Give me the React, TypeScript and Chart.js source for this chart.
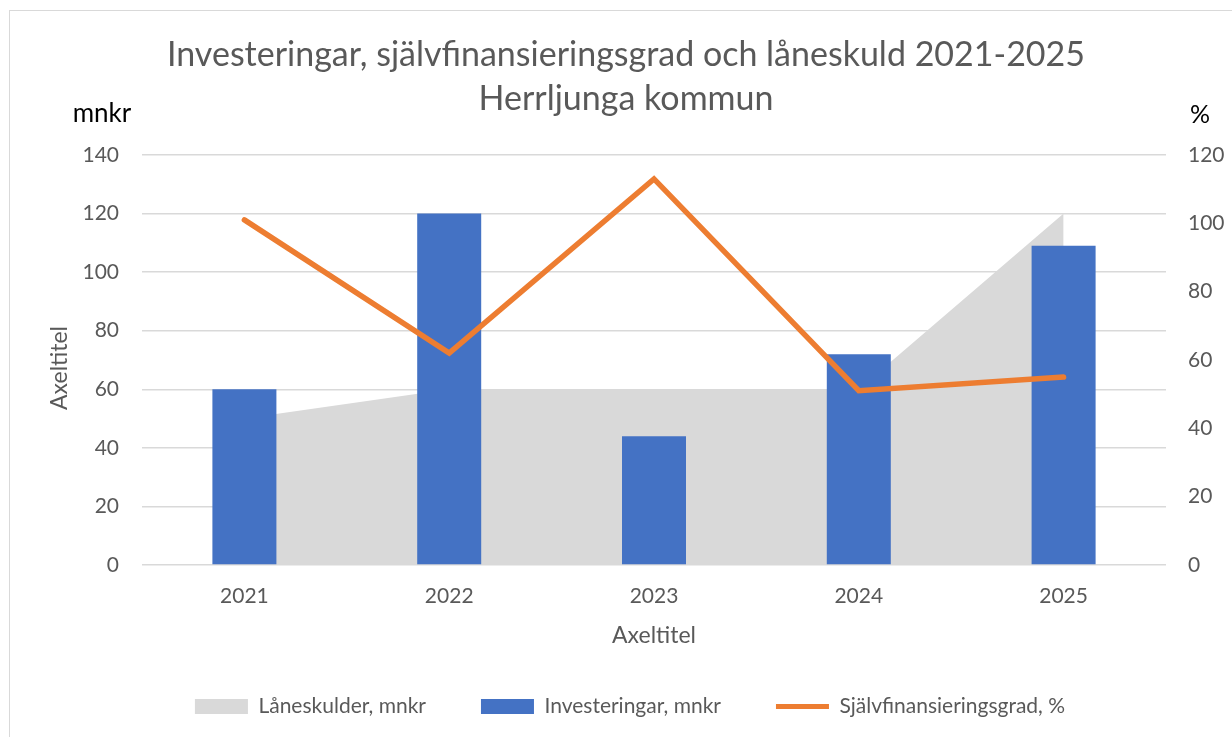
import React, { useEffect, useRef } from "react";
import { Chart, registerables } from "chart.js";

Chart.register(...registerables);

const years = ["2021", "2022", "2023", "2024", "2025"];
const loanDebt = [50, 60, 60, 60, 120];
const investments = [60, 120, 44, 72, 109];
const selfFinancing = [101, 62, 113, 51, 55];

const titleLines = ["Investeringar, självfinansieringsgrad och låneskuld 2021-2025", "Herrljunga kommun"];
const leftUnit = "mnkr";
const rightUnit = "%";
const axisTitle = "Axeltitel";

const FONT = "Lato, 'Open Sans', sans-serif";
const GREY_TEXT = "#595959";

const textPlugin = {
  id: "extraText",
  afterDraw(chart: any) {
    const { ctx, chartArea } = chart;
    ctx.save();
    ctx.textAlign = "center";
    ctx.textBaseline = "alphabetic";
    ctx.fillStyle = GREY_TEXT;
    ctx.font = `400 34px ${FONT}`;
    ctx.fillText(titleLines[0], 626, 66);
    ctx.fillText(titleLines[1], 626, 110);

    ctx.fillStyle = "#000000";
    ctx.font = `26px ${FONT}`;
    ctx.fillText(leftUnit, 102, 122);
    ctx.font = `25px ${FONT}`;
    ctx.fillText(rightUnit, 1200, 123);

    ctx.fillStyle = GREY_TEXT;
    ctx.font = `23px ${FONT}`;
    ctx.textBaseline = "middle";
    ctx.fillText(axisTitle, (chartArea.left + chartArea.right) / 2, 636);
    ctx.translate(60, 368);
    ctx.rotate(-Math.PI / 2);
    ctx.fillText(axisTitle, 0, 0);
    ctx.restore();
  },
};

export default function App() {
  const ref = useRef<HTMLCanvasElement | null>(null);

  useEffect(() => {
    if (!ref.current) return;
    const PAD_L = 28;
    const PAD_B = 10;
    const chart = new Chart(ref.current, {
      type: "bar",
      data: {
        labels: years,
        datasets: [
          {
            type: "line",
            label: "Låneskulder, mnkr",
            data: loanDebt,
            yAxisID: "y",
            backgroundColor: "#D9D9D9",
            borderWidth: 0,
            borderColor: "rgba(0,0,0,0)",
            pointRadius: 0,
            fill: "origin",
            order: 3,
          } as any,
          {
            type: "bar",
            label: "Investeringar, mnkr",
            data: investments,
            yAxisID: "y",
            backgroundColor: "#4472C4",
            categoryPercentage: 1,
            barPercentage: 0.3125,
            order: 2,
          },
          {
            type: "line",
            label: "Självfinansieringsgrad, %",
            data: selfFinancing,
            yAxisID: "y1",
            borderColor: "#ED7D31",
            backgroundColor: "#ED7D31",
            borderWidth: 5.5,
            borderCapStyle: "round",
            borderJoinStyle: "miter",
            pointRadius: 0,
            fill: false,
            tension: 0,
            order: 1,
          } as any,
        ],
      },
      options: {
        animation: false,
        responsive: false,
        maintainAspectRatio: false,
        layout: { padding: { top: 155, left: PAD_L, right: 0, bottom: PAD_B } },
        plugins: {
          title: { display: false },
          tooltip: { enabled: false },
          legend: {
            position: "bottom",
            labels: {
              color: GREY_TEXT,
              font: { family: FONT, size: 21 },
              usePointStyle: true,
              pointStyleWidth: 53,
              boxHeight: 15,
              padding: 55,
              generateLabels: (c: any) =>
                c.data.datasets.map((d: any, i: number) => ({
                  text: d.label,
                  fillStyle: i === 2 ? "#ED7D31" : d.backgroundColor,
                  strokeStyle: i === 2 ? "#ED7D31" : d.backgroundColor,
                  lineWidth: i === 2 ? 5 : 0,
                  pointStyle: i === 2 ? "line" : "rect",
                  fontColor: GREY_TEXT,
                  hidden: false,
                  datasetIndex: i,
                })),
            },
          },
        },
        scales: {
          x: {
            grid: { display: false, drawTicks: false },
            border: { display: false },
            ticks: { color: GREY_TEXT, font: { family: FONT, size: 21 }, padding: 19 },
            afterFit: (s: any) => {
              const lh = s.chart.legend ? s.chart.legend.height : 50;
              s.height = 737 - 565 - PAD_B - lh;
            },
          },
          y: {
            position: "left",
            min: 0,
            max: 140,
            ticks: { stepSize: 20, color: GREY_TEXT, font: { family: FONT, size: 21 }, padding: 23 },
            grid: { color: "#D9D9D9", lineWidth: 1.5, drawTicks: false },
            border: { display: false },
            afterFit: (s: any) => {
              s.width = 142 - PAD_L;
            },
          },
          y1: {
            position: "right",
            min: 0,
            max: 120,
            ticks: { stepSize: 20, color: GREY_TEXT, font: { family: FONT, size: 21 }, padding: 22 },
            grid: { display: false, drawTicks: false },
            border: { display: false },
            afterFit: (s: any) => {
              s.width = 1232 - 1166;
            },
          },
        },
      },
      plugins: [textPlugin],
    });
    return () => chart.destroy();
  }, []);

  return (
    <div style={{ position: "fixed", left: 0, top: 0, width: 1232, height: 737, overflow: "hidden", background: "#fff" }}>
      <div
        style={{
          position: "absolute",
          left: 9,
          top: 10,
          width: 1260,
          height: 760,
          border: "1.5px solid #D9D9D9",
          boxSizing: "border-box",
        }}
      />
      <canvas ref={ref} width={1232} height={737} style={{ position: "absolute", left: 0, top: 0, width: 1232, height: 737 }} />
    </div>
  );
}
